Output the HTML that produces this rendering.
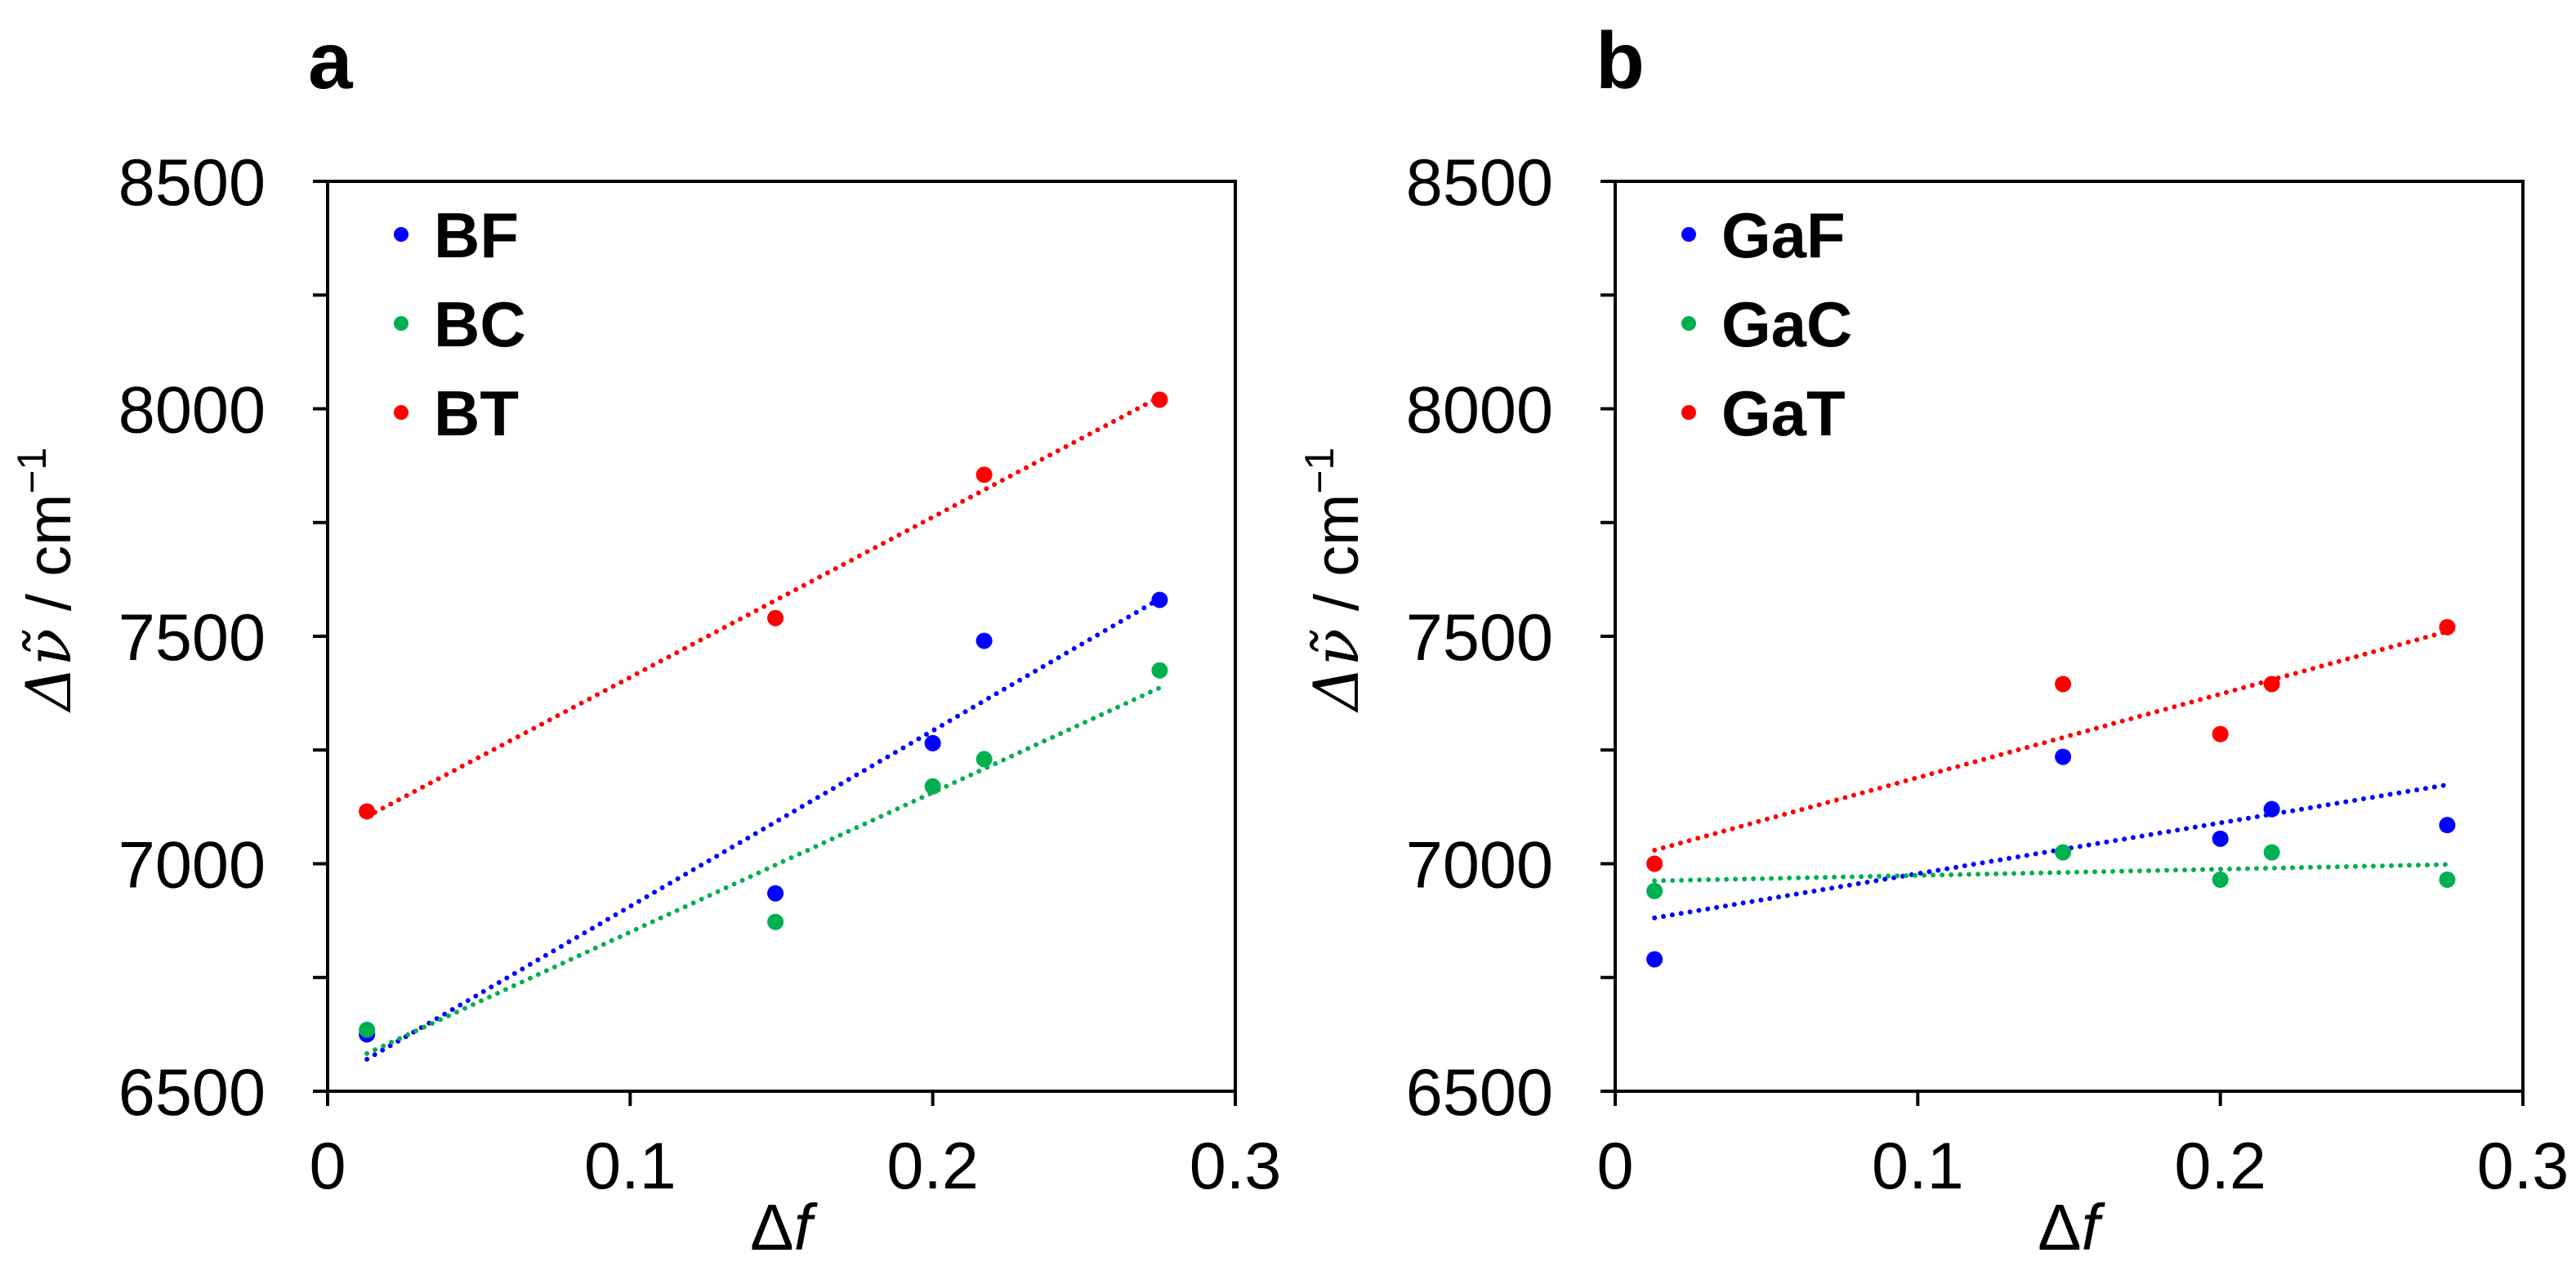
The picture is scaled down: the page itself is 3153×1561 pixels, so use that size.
<!DOCTYPE html>
<html><head><meta charset="utf-8"><style>
body{margin:0;background:#fff}
svg text{font-family:"Liberation Sans",Arial,sans-serif}
</style></head><body>
<svg id="c" width="3153" height="1556" viewBox="0 0 3153 1556" xmlns="http://www.w3.org/2000/svg"></svg>
<script>
const xs = [0.013, 0.148, 0.2, 0.217, 0.275];
const xsT = [0.013, 0.148, 0.217, 0.275];
const bfVals = [6625, 6935, 7265, 7490, 7580];
const bcVals = [6635, 6872, 7170, 7230, 7425];
const btVals = [7115, 7540, 7855, 8020];
const gafVals = [6790, 7235, 7055, 7120, 7085];
const gacVals = [6940, 7025, 6965, 7025, 6965];
const gatVals = [7000, 7395, 7285, 7395, 7520];
const yTicks = [6500, 7000, 7500, 8000, 8500];
const yMinor = [6750, 7250, 7750, 8250];
const xTicks = [0, 0.1, 0.2, 0.3];
const xTickLabels = ["0", "0.1", "0.2", "0.3"];

const NS = "http://www.w3.org/2000/svg";
const svg = document.getElementById('c');
function mk(tag, attrs, parent){const e=document.createElementNS(NS,tag);for(const k in attrs)e.setAttribute(k,attrs[k]);(parent||svg).appendChild(e);return e;}
function fit(x,y){const n=x.length;let sx=0,sy=0,sxx=0,sxy=0;for(let i=0;i<n;i++){sx+=x[i];sy+=y[i];sxx+=x[i]*x[i];sxy+=x[i]*y[i];}const m=(n*sxy-sx*sy)/(n*sxx-sx*sx);return [m,(sy-m*sx)/n];}

function panel(L, letter, series){
  const R=L+1111, T=222, B=1336;
  const sx=v=>L+(v-0)/0.3*(R-L);
  const sy=v=>B-(v-6500)/2000*(B-T);
  const g=mk('g',{});
  
  
  const t=mk('text',{x:L-24,y:108,'font-size':98,'font-weight':'bold'},g);t.textContent=letter;
  
  const fr=mk('rect',{x:L,y:T,width:R-L,height:B-T,fill:'none',stroke:'#000','stroke-width':4},g);
  
  yTicks.forEach(v=>{mk('line',{x1:L-18,x2:L,y1:sy(v),y2:sy(v),stroke:'#000','stroke-width':4},g);
    const tx=mk('text',{x:L-76,y:sy(v)+29,'font-size':81,'text-anchor':'end'},g);tx.textContent=v;
    });
  yMinor.forEach(v=>mk('line',{x1:L-18,x2:L,y1:sy(v),y2:sy(v),stroke:'#000','stroke-width':4},g));
  xTicks.forEach((v,i)=>{mk('line',{x1:sx(v),x2:sx(v),y1:B,y2:B+18,stroke:'#000','stroke-width':4},g);
    const tx=mk('text',{x:sx(v),y:1455,'font-size':81,'text-anchor':'middle'},g);tx.textContent=xTickLabels[i];
    });
  const xt=mk('text',{x:L+555,y:1530,'font-size':80,'text-anchor':'middle','font-family':'Liberation Serif'},g);
  xt.innerHTML='Δ<tspan font-style="italic">f</tspan>';
  
  const yt=mk('text',{x:0,y:0,'font-size':76,'text-anchor':'middle',transform:`translate(${L-315},${(T+B)/2-70}) rotate(-90)`},g);
  yt.innerHTML='<tspan font-family="DejaVu Serif" font-style="italic">Δν̃</tspan> / cm<tspan dy="-30" font-size="50">−1</tspan>';
  
  series.forEach((s,i)=>{
    const [m,b]=fit(s.x,s.y);
    const x0=s.x[0],x1=s.x[s.x.length-1];
    const ln=mk('line',{x1:sx(x0),y1:sy(m*x0+b),x2:sx(x1),y2:sy(m*x1+b),stroke:s.c,'stroke-width':6,'stroke-dasharray':'0 11','stroke-linecap':'round'},g);
    
    s.x.forEach((xv,j)=>{const p=mk('circle',{cx:sx(xv),cy:sy(s.y[j]),r:10,fill:s.c},g);
      });
    const ly=287+i*109;
    const ld=mk('circle',{cx:L+90,cy:ly,r:9,fill:s.c},g);
    
    const lt=mk('text',{x:L+130,y:ly+28,'font-size':78,'font-weight':'bold'},g);lt.textContent=s.n;
    
  });
}
panel(401,'a',[{n:'BF',c:'#0000ff',x:xs,y:bfVals},{n:'BC',c:'#00b050',x:xs,y:bcVals},{n:'BT',c:'#ff0000',x:xsT,y:btVals}]);
panel(1977,'b',[{n:'GaF',c:'#0000ff',x:xs,y:gafVals},{n:'GaC',c:'#00b050',x:xs,y:gacVals},{n:'GaT',c:'#ff0000',x:xs,y:gatVals}]);
</script>
</body></html>
